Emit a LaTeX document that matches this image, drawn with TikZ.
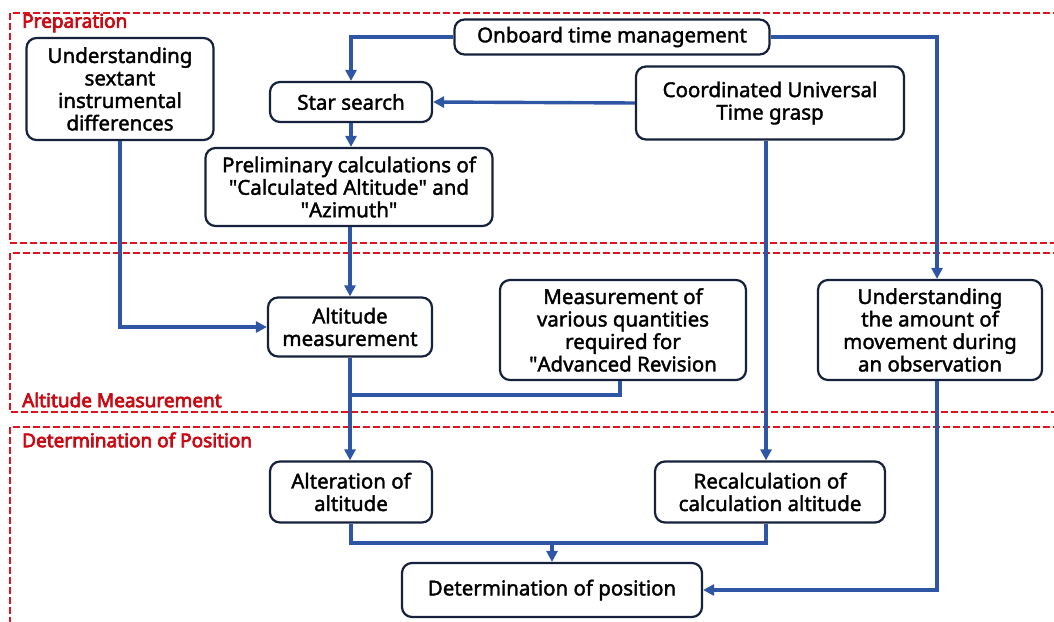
\documentclass[tikz,border=0pt]{standalone}
\usepackage{fontspec}
\setmainfont{Noto Sans}
\newfontfamily\stepfont{Noto Sans}[FakeBold=1.8]
\newfontfamily\zonefont{Noto Sans}[FakeBold=3.6]
\usetikzlibrary{arrows.meta}
\definecolor{flowblue}{RGB}{46,86,164}
\definecolor{boxline}{RGB}{22,34,60}
\definecolor{zonered}{RGB}{224,20,30}
\definecolor{labelred}{RGB}{200,10,20}
\newcommand{\qt}{\textquotedbl}
\tikzset{
  stepbox/.style={draw=boxline, line width=2.2pt, rounded corners=10pt, fill=white,
    align=center, inner sep=0pt, font=\stepfont\fontsize{20.5}{22.5}\selectfont},
  flow/.style={draw=flowblue, line width=3.4pt, -{Triangle[length=11pt,width=11pt]}},
  flowplain/.style={draw=flowblue, line width=3.4pt},
  zone/.style={draw=zonered, line width=1.8pt, dash pattern=on 7pt off 3pt},
  zonelabel/.style={text=labelred, font=\zonefont\fontsize{19}{21}\selectfont, anchor=west, inner sep=0pt}
}
\begin{document}
\begin{tikzpicture}[x=1pt,y=-1pt]
\useasboundingbox (0,0) rectangle (1054,621);
\clip (0,0) rectangle (1054,621);
\fill[white] (0,0) rectangle (1054,621);

% zones
\draw[zone] (1070,13) -- (10,13) -- (10,243) -- (1070,243);
\draw[zone] (1070,253) -- (10,253) -- (10,412) -- (1070,412);
\draw[zone] (1070,427) -- (10,427) -- (10,630);
\node[zonelabel] (lprep) at (22,23) {Preparation};
\node[zonelabel] (lalt) at (22,400) {Altitude Measurement};
\node[zonelabel] (ldet) at (22,440) {Determination of Position};

% steps
\node[stepbox, minimum width=315pt, minimum height=35pt] (onboard) at (612,37) {Onboard time management};
\node[stepbox, minimum width=187pt, minimum height=102pt] (sextant) at (120,89) {Understanding\\sextant\\instrumental\\differences};
\node[stepbox, minimum width=162pt, minimum height=40pt] (star) at (351,102) {Star search};
\node[stepbox, minimum width=268pt, minimum height=73pt] (utc) at (770,103) {Coordinated Universal\\Time grasp};
\node[stepbox, minimum width=287pt, minimum height=78pt] (prelim) at (349,187) {Preliminary calculations of\\\qt Calculated Altitude\qt{} and\\\qt Azimuth\qt};
\node[stepbox, minimum width=164pt, minimum height=59pt] (altm) at (350,327) {Altitude\\measurement};
\node[stepbox, minimum width=246pt, minimum height=100pt] (quant) at (623,330) {Measurement of\\various quantities\\required for\\\qt Advanced Revision};
\node[stepbox, minimum width=224pt, minimum height=100pt] (move) at (930,330) {Understanding\\the amount of\\movement during\\an observation};
\node[stepbox, minimum width=162pt, minimum height=61pt] (alter) at (351,492) {Alteration of\\altitude};
\node[stepbox, minimum width=230pt, minimum height=61pt] (recalc) at (770,492) {Recalculation of\\calculation altitude};
\node[stepbox, minimum width=300pt, minimum height=54pt] (pos) at (552,590) {Determination of position};

% junction points
\coordinate (jq) at (350,395);
\coordinate (jb) at (552,543);

% connectors
\draw[flow] (onboard.west) -| (star.north);
\draw[flow] (onboard.east) -| (move.north -| 937,0);
\draw[flow] (utc.west) -- (star.east);
\draw[flow] (utc.south -| 766,0) -- (recalc.north -| 766,0);
\draw[flow] (star) -- (prelim.north -| star.south);
\draw[flow] (prelim.south -| altm.north) -- (altm.north);
\draw[flow] (sextant.south) |- (altm.west);
\draw[flow] (altm.south) -- (alter.north -| altm.south);
\draw[flowplain] (quant.south -| 620,0) |- (jq);
\draw[flow] (move.south -| 937,0) |- (pos.east);
\draw[flowplain] (alter.south) |- (jb) -| (recalc.south -| 766,0);
\draw[flow] (jb) -- (pos.north);
\end{tikzpicture}
\end{document}
